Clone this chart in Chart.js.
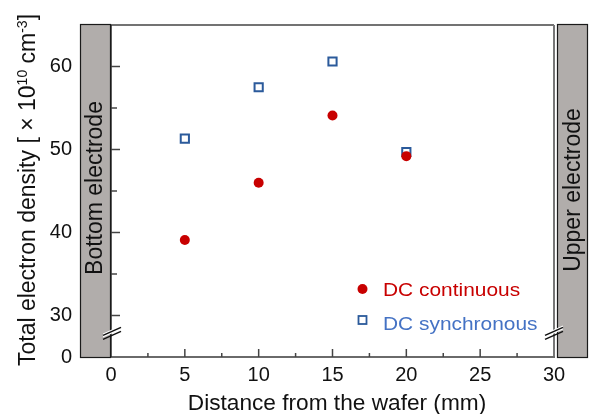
<!DOCTYPE html>
<html><head><meta charset="utf-8">
<style>html,body{margin:0;padding:0;background:#fff}#wrap{width:590px;height:414px}</style>
<script src="https://cdn.jsdelivr.net/npm/chart.js@4"></script>
</head><body><div id="wrap"><canvas id="c" width="590" height="414"></canvas></div>
<script>
// ---- data ----
const distances = [5, 10, 15, 20];
const dcContinuous = [39.1, 46.0, 54.1, 49.2];
const dcSynchronous = [51.3, 57.5, 60.6, 49.7];
const seriesNames = ['DC continuous', 'DC synchronous'];
const xMajorTicks = [0, 5, 10, 15, 20, 25, 30];
const xMinorTicks = [2.5, 7.5, 12.5, 17.5, 22.5, 27.5];
const yMajorTicks = [30, 40, 50, 60];
const yMinorTicks = [35, 45, 55];
const yTickLabels = {25: '0', 30: '30', 40: '40', 50: '50', 60: '60'};
const xTitle = 'Distance from the wafer (mm)';
const yTitleParts = [['Total electron density [ × 10', 0], ['10', 1], [' cm', 0], ['-3', 1], [']', 0]];
const electrodeLabels = ['Bottom electrode', 'Upper electrode'];

const RED = '#C80000', BLUE_M = '#2B5A9B', BLUE_T = '#4472C4';
const FONT = '"Liberation Sans", Arial, sans-serif';

function txt(ctx, s, x, y, size, color, sx, rot, align, base) {
  ctx.save();
  ctx.translate(x, y); ctx.rotate(rot || 0); ctx.scale(sx || 1, 1);
  ctx.font = size + 'px ' + FONT; ctx.fillStyle = color;
  ctx.textAlign = align || 'left'; ctx.textBaseline = base || 'alphabetic';
  ctx.fillText(s, 0, 0);
  ctx.restore();
}
function line(ctx, x1, y1, x2, y2, color, w) {
  ctx.beginPath(); ctx.moveTo(x1, y1); ctx.lineTo(x2, y2);
  ctx.strokeStyle = color; ctx.lineWidth = w; ctx.stroke();
}

const decor = {
  id: 'decor',
  afterDraw(chart) {
    const ctx = chart.ctx, a = chart.chartArea;
    const xs = chart.scales.x, ys = chart.scales.y;
    ctx.save();
    // frame
    line(ctx, a.left, a.top, a.right, a.top, '#444', 1.5);
    line(ctx, a.right, a.top, a.right, a.bottom, '#777', 2);
    line(ctx, a.left - 1, a.bottom, a.right + 1, a.bottom, '#6a6a6a', 2);
    line(ctx, a.left, a.top, a.left, a.bottom, '#333', 1.5);
    // ticks inward
    xMajorTicks.forEach(v => { const x = xs.getPixelForValue(v); if (v > 0 && v < 30) line(ctx, x, a.bottom, x, a.bottom - 8, '#444', 1.5); });
    xMinorTicks.forEach(v => { const x = xs.getPixelForValue(v); line(ctx, x, a.bottom, x, a.bottom - 4, '#444', 1.5); });
    yMajorTicks.forEach(v => { const y = ys.getPixelForValue(v); line(ctx, a.left, y, a.left + 9, y, '#444', 1.5); });
    yMinorTicks.forEach(v => { const y = ys.getPixelForValue(v); line(ctx, a.left, y, a.left + 6, y, '#444', 1.5); });
    // electrode boxes
    const top = a.top - 1, bot = a.bottom + 1;
    [[80, 111], [557, 588]].forEach((b, i) => {
      ctx.fillStyle = '#B1ADAB';
      ctx.fillRect(b[0], top, b[1] - b[0], bot - top);
      ctx.strokeStyle = '#1a1a1a'; ctx.lineWidth = 1.2;
      ctx.strokeRect(b[0] + 0.5, top + 0.5, b[1] - b[0] - 1, bot - top - 1);
    });
    txt(ctx, electrodeLabels[0], 101.5, (top + bot) / 2 - 3, 23, '#111', 1, -Math.PI / 2, 'center');
    txt(ctx, electrodeLabels[1], 580, (top + bot) / 2 - 1, 23, '#111', 1, -Math.PI / 2, 'center');
    // axis breaks
    const yb = ys.getPixelForValue(27.9);
    [a.left + 1, a.right].forEach(xc => {
      ctx.beginPath();
      ctx.moveTo(xc - 9, yb + 4.5); ctx.lineTo(xc + 9, yb - 3.5);
      ctx.lineTo(xc + 9, yb - 7.5); ctx.lineTo(xc - 9, yb + 0.5); ctx.closePath();
      ctx.fillStyle = '#fff'; ctx.fill();
      line(ctx, xc - 9, yb + 6.5, xc + 9, yb - 1.5, '#111', 1.5);
      line(ctx, xc - 9, yb + 2.5, xc + 9, yb - 5.5, '#111', 1.5);
    });
    // legend
    ctx.beginPath(); ctx.arc(362.5, 289, 5, 0, Math.PI * 2); ctx.fillStyle = RED; ctx.fill();
    ctx.strokeStyle = BLUE_M; ctx.lineWidth = 1.8; ctx.strokeRect(358.5, 316, 8, 8);
    txt(ctx, seriesNames[0], 383, 296, 19, RED, 1.1);
    txt(ctx, seriesNames[1], 383, 329.5, 19, BLUE_T, 1.1);
    // x title
    txt(ctx, xTitle, 337, 410, 22, '#111', 1.03, 0, 'center');
    // y title with superscripts
    const fs = 23, ss = 14;
    let total = 0;
    const widths = yTitleParts.map(p => { ctx.font = (p[1] ? ss : fs) + 'px ' + FONT; const w = ctx.measureText(p[0]).width; total += w; return w; });
    ctx.save();
    ctx.translate(35, 190); ctx.rotate(-Math.PI / 2);
    let xx = -total / 2;
    yTitleParts.forEach((p, i) => {
      ctx.font = (p[1] ? ss : fs) + 'px ' + FONT; ctx.fillStyle = '#111';
      ctx.textBaseline = 'alphabetic'; ctx.textAlign = 'left';
      ctx.fillText(p[0], xx, p[1] ? -8.5 : 0);
      xx += widths[i];
    });
    ctx.restore();
    ctx.restore();
  }
};

new Chart(document.getElementById('c'), {
  type: 'scatter',
  data: {
    datasets: [
      { label: seriesNames[0], data: distances.map((d, i) => ({x: d, y: dcContinuous[i]})),
        pointStyle: 'circle', pointRadius: 5, pointHoverRadius: 5, backgroundColor: RED, borderColor: RED, borderWidth: 0 },
      { label: seriesNames[1], data: distances.map((d, i) => ({x: d, y: dcSynchronous[i]})),
        pointStyle: 'rect', pointRadius: 5.8, pointHoverRadius: 5.8, backgroundColor: '#fff', borderColor: BLUE_M, borderWidth: 2 }
    ]
  },
  options: {
    responsive: false, animation: false, devicePixelRatio: 1,
    layout: { padding: { top: 25, right: 36, left: 0, bottom: 0 } },
    plugins: { legend: { display: false }, tooltip: { enabled: false } },
    scales: {
      x: {
        type: 'linear', min: 0, max: 30,
        afterFit(s) { s.height = 57; s.paddingLeft = 0; s.paddingRight = 0; },
        grid: { display: false, drawTicks: false }, border: { display: false },
        ticks: { stepSize: 5, padding: 6, color: '#111', font: { family: FONT, size: 20 }, maxRotation: 0,
          callback: v => xMajorTicks.includes(v) ? String(v) : '' }
      },
      y: {
        type: 'linear', min: 25, max: 65,
        afterFit(s) { s.width = 111; s.paddingTop = 0; s.paddingBottom = 0; },
        grid: { display: false, drawTicks: false }, border: { display: false },
        ticks: { stepSize: 5, padding: 39, color: '#111', font: { family: FONT, size: 20 },
          callback: v => (yTickLabels[v] !== undefined ? yTickLabels[v] : '') }
      }
    }
  },
  plugins: [decor]
});
</script>
</body></html>
